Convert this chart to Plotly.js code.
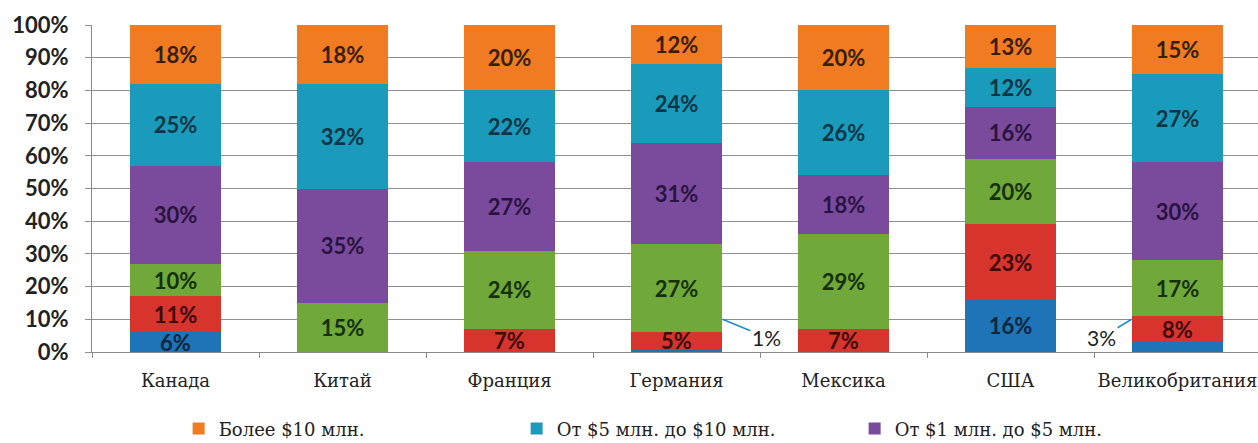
<!DOCTYPE html>
<html>
<head>
<meta charset="utf-8">
<script src="https://cdn.plot.ly/plotly-3.0.1.min.js"></script>
<style>html,body{margin:0;padding:0;background:#fff;}#chart{width:1258px;height:443px;}</style>
</head>
<body>
<div id="chart"></div>
<script>
// Categories (countries)
const countries = ["Канада", "Китай", "Франция", "Германия", "Мексика", "США", "Великобритания"];

// Series values, % (bottom of stack to top)
const seriesNames = [
  "До $100 тыс.",
  "От $100 тыс. до $500 тыс.",
  "От $500 тыс. до $1 млн.",
  "От $1 млн. до $5 млн.",
  "От $5 млн. до $10 млн.",
  "Более $10 млн."
];
const blueVals   = [6, 0, 0, 1, 0, 16, 3];
const redVals    = [11, 0, 7, 5, 7, 23, 8];
const greenVals  = [10, 15, 24, 27, 29, 20, 17];
const purpleVals = [30, 35, 27, 31, 18, 16, 30];
const tealVals   = [25, 32, 22, 24, 26, 12, 27];
const orangeVals = [18, 18, 20, 12, 20, 13, 15];

const yTickVals = [0,10,20,30,40,50,60,70,80,90,100];

const seriesVals = [blueVals, redVals, greenVals, purpleVals, tealVals, orangeVals];
const colors = ["#1F73B7", "#D7342E", "#70A83A", "#7A4B9C", "#1A9BBC", "#F07B22"];
const textColors = ["#0b2740", "#3d0a08", "#15300a", "#2a1340", "#0b3544", "#3a1d05"];
const inLegend = [false, false, false, true, true, true];

const barWidth = 0.55;
const sansFam = "Lato, 'Open Sans', sans-serif";
const serifFam = "'DejaVu Serif', 'Liberation Serif', serif";
const labelFont = {family: sansFam, size: 22, weight: "bold"};

const traces = seriesVals.map((vals, i) => ({
  type: "bar",
  name: seriesNames[i],
  x: countries,
  y: vals,
  width: barWidth,
  marker: {color: colors[i], line: {width: 0}},
  text: vals.map(v => v >= 5 ? v + "%" : ""),
  textposition: "inside",
  insidetextanchor: "middle",
  textangle: 0,
  constraintext: "none",
  textfont: Object.assign({color: textColors[i]}, labelFont),
  hoverinfo: "skip",
  showlegend: inLegend[i]
}));

// small values shown outside the bar with a leader line
const annotations = [];
blueVals.forEach((v, i) => {
  if (v > 0 && v < 5) {
    const side = (i === countries.length - 1) ? -1 : 1;
    annotations.push({
      x: i + side * barWidth / 2,
      y: 10,
      xref: "x", yref: "y",
      text: v + "%",
      showarrow: true,
      arrowhead: 0,
      arrowwidth: 1.6,
      arrowcolor: "#1F8FC8",
      ax: side > 0 ? 44 : -30,
      ay: 18,
      font: {family: sansFam, size: 21, color: "#222"}
    });
  }
});

const layout = {
  width: 1258,
  height: 443,
  margin: {l: 92, r: 0, t: 25, b: 91},
  paper_bgcolor: "#fff",
  plot_bgcolor: "#fff",
  barmode: "stack",
  uniformtext: {mode: "show", minsize: 22},
  xaxis: {
    type: "category",
    range: [-0.5, 6.482],
    showgrid: false,
    showline: true,
    linecolor: "#8a8a8a",
    linewidth: 1,
    ticks: "outside",
    tickson: "boundaries",
    ticklen: 5,
    tickcolor: "#8a8a8a",
    ticklabelstandoff: 12,
    tickfont: {family: serifFam, size: 18, color: "#222"},
    automargin: false,
    fixedrange: true
  },
  yaxis: {
    range: [0, 100],
    tickvals: yTickVals,
    ticktext: yTickVals.map(v => v + "%"),
    showgrid: true,
    gridcolor: "#8f8f8f",
    gridwidth: 1,
    zeroline: false,
    showline: true,
    linecolor: "#8a8a8a",
    ticks: "outside",
    ticklen: 6,
    tickcolor: "#8f8f8f",
    ticklabelstandoff: 12,
    tickfont: {family: sansFam, size: 22, color: "#222", weight: "bold"},
    automargin: false,
    fixedrange: true
  },
  legend: {
    orientation: "h",
    xref: "container",
    yref: "container",
    x: 0.142,
    xanchor: "left",
    y: 0.032,
    yanchor: "middle",
    traceorder: "reversed",
    entrywidth: 293,
    entrywidthmode: "pixels",
    itemwidth: 30,
    font: {family: serifFam, size: 18, color: "#222"}
  },
  annotations: annotations,
  showlegend: true
};

Plotly.newPlot("chart", traces, layout, {displayModeBar: false, staticPlot: true});
</script>
</body>
</html>
